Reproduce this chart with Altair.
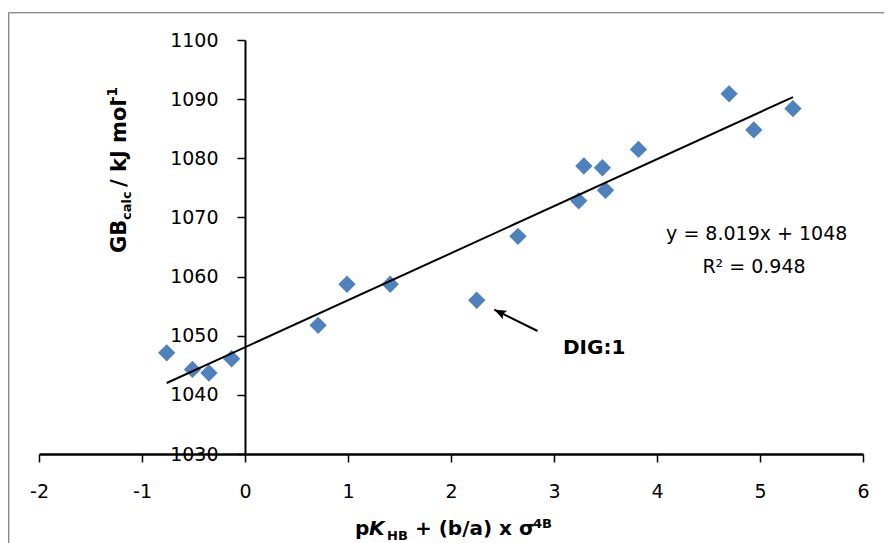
import altair as alt
import pandas as pd

# ---- data ----
x_vals = [-0.76, -0.51, -0.35, -0.13, 0.71, 0.99, 1.41, 2.25, 2.65, 3.24, 3.29, 3.47, 3.50, 3.82, 4.70, 4.94, 5.32]
y_vals = [1047.1, 1044.3, 1043.7, 1046.1, 1051.75, 1058.7, 1058.7, 1056.0, 1066.8, 1072.8, 1078.7, 1078.4, 1074.6, 1081.5, 1090.9, 1084.8, 1088.4]

x_ticks = [-2, -1, 0, 1, 2, 3, 4, 5, 6]
y_ticks = [1030, 1040, 1050, 1060, 1070, 1080, 1090, 1100]

eq_text = ["y = 8.019x + 1048", "R² = 0.948"]
eq_x = [4.968, 4.942]
eq_y = [1066.26, 1060.6]

label_text = ["DIG:1"]
label_x = [3.087]
label_y = [1046.85]

arrow_tail_x = [2.84]
arrow_tail_y = [1050.8]
arrow_tip_x = [2.42]
arrow_tip_y = [1054.4]

# ---- chart ----
W, H = 824, 414
FONT = "DejaVu Sans"
xs = alt.Scale(domain=[x_ticks[0], x_ticks[-1]], nice=False, zero=False)
ys = alt.Scale(domain=[y_ticks[0], y_ticks[-1]], nice=False, zero=False)

x_axis = alt.Axis(values=x_ticks, title=None, grid=False, domainColor="black", domainWidth=2.5,
                  tickColor="black", tickWidth=1.5, tickSize=8, labelFont=FONT, labelFontSize=19,
                  labelColor="black", labelPadding=20, labelFlush=False, labelOverlap=False,
                  labelExpr="'' + datum.value")
y_axis = alt.Axis(values=y_ticks, title=None, grid=False, domainColor="black", domainWidth=2,
                  tickColor="black", tickWidth=1.5, tickSize=8, labelFont=FONT, labelFontSize=19,
                  labelColor="black", labelPadding=19, labelFlush=False, labelOverlap=False,
                  labelExpr="'' + datum.value", offset=-206)


def X(field):
    return alt.X(f"{field}:Q", scale=xs, axis=x_axis)


def Y(field):
    return alt.Y(f"{field}:Q", scale=ys, axis=y_axis)


df = pd.DataFrame({"x": x_vals, "y": y_vals})
base = alt.Chart(df)

points = base.mark_point(shape="diamond", filled=True, size=300, color="#4F81BD", opacity=1).encode(
    x=X("x"), y=Y("y"))

trend = base.transform_regression("x", "y").mark_line(color="black", strokeWidth=2).encode(
    x=X("x"), y=Y("y"))

eq_df = pd.DataFrame({"x": eq_x, "y": eq_y, "t": eq_text})
eq = alt.Chart(eq_df).mark_text(font=FONT, fontSize=19, color="black", align="center",
                                baseline="alphabetic").encode(x=X("x"), y=Y("y"), text="t:N")

lab_df = pd.DataFrame({"x": label_x, "y": label_y, "t": label_text})
lab = alt.Chart(lab_df).mark_text(font=FONT, fontSize=20, fontWeight="bold", color="black", align="left",
                                  baseline="alphabetic").encode(x=X("x"), y=Y("y"), text="t:N")

arr_df = pd.DataFrame({"x": arrow_tail_x, "y": arrow_tail_y, "x2": arrow_tip_x, "y2": arrow_tip_y})
arrow_line = alt.Chart(arr_df).mark_rule(color="black", strokeWidth=2).encode(
    x=X("x"), y=Y("y"), x2="x2:Q", y2="y2:Q")
arrow_head = alt.Chart(arr_df).mark_point(shape="M0,0 L2,-0.8 L1.6,0 L2,0.8 Z", filled=True, size=144,
                                          color="black", opacity=1, angle=26).encode(
    x=X("x2"), y=Y("y2"))

one = alt.Data(values=[{"a": 0}])


def txt(s, x, y, size, angle=0, style="normal"):
    return alt.Chart(one).mark_text(text=s, font=FONT, fontSize=size, fontWeight="bold", fontStyle=style,
                                    color="black", align="left", baseline="alphabetic", angle=angle).encode(
        x=alt.value(x), y=alt.value(y))


# x-axis title: pK_HB + (b/a) x σ^4B
xt = [
    txt("p", 316, 495, 20),
    txt("K", 330, 495, 20, style="italic"),
    txt("HB", 348, 500, 13),
    txt("+ (b/a) x σ", 376, 495, 20),
    txt("4B", 494, 488, 13),
]
# y-axis title: GB_calc / kJ mol^-1 (rotated)
yt = [
    txt("GB", 87, 213, 21, angle=270),
    txt("calc", 92, 180, 13, angle=270),
    txt("/ kJ mol", 87, 147, 21, angle=270),
    txt("-1", 78, 62, 13.5, angle=270),
]

frame_outer = alt.Chart(one).mark_rect(fill=None, stroke="#8a8a8a", strokeWidth=1).encode(
    x=alt.value(-30.5), y=alt.value(-27.5), x2=alt.value(900), y2=alt.value(600))
frame_inner = alt.Chart(one).mark_rect(fill=None, stroke="#cfcfcf", strokeWidth=1).encode(
    x=alt.value(-29.5), y=alt.value(-26.5), x2=alt.value(900), y2=alt.value(600))

chart = alt.layer(points, trend, eq, lab, arrow_line, arrow_head, frame_outer, frame_inner, *xt, *yt).properties(
    width=W, height=H,
    autosize=alt.AutoSizeParams(type="none"),
    padding={"left": 31, "top": 32, "right": 21, "bottom": 89},
).configure(background="white").configure_view(stroke=None)

chart.save("out.html", embed_options={"renderer": "svg", "actions": False})
